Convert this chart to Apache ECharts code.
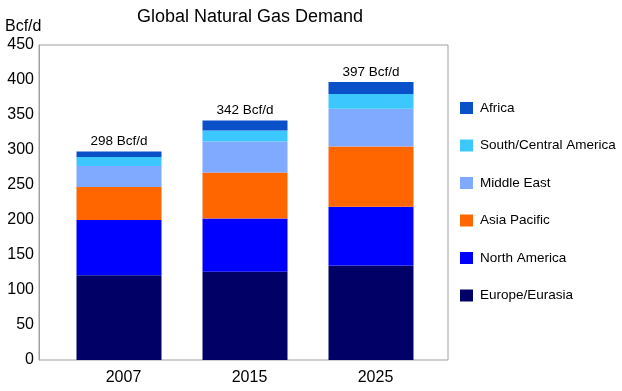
<!DOCTYPE html>
<html>
<head>
<meta charset="utf-8">
<script src="https://cdn.jsdelivr.net/npm/echarts@6/dist/echarts.min.js"></script>
<style>
html,body{margin:0;padding:0;background:#fff;}
#chart{width:622px;height:391px;}
</style>
</head>
<body>
<div id="chart"></div>
<script>
const categories = ['2007', '2015', '2025'];
const europeEurasia = [121, 126, 135];
const northAmerica = [79, 76, 84];
const asiaPacific = [47, 66, 86];
const middleEast = [30, 44, 54];
const southCentralAmerica = [13, 16, 21];
const africa = [8, 14, 17];
const totals = [298, 342, 397];
const yTicks = [0, 50, 100, 150, 200, 250, 300, 350, 400, 450];

const seriesDefs = [
  { name: 'Europe/Eurasia', data: europeEurasia, color: '#000066' },
  { name: 'North America', data: northAmerica, color: '#0000ff' },
  { name: 'Asia Pacific', data: asiaPacific, color: '#ff6600' },
  { name: 'Middle East', data: middleEast, color: '#7faaff' },
  { name: 'South/Central America', data: southCentralAmerica, color: '#3cc8ff' },
  { name: 'Africa', data: africa, color: '#0a50c8' }
];

const font = 'Arial, "Liberation Sans", sans-serif';
const chart = echarts.init(document.getElementById('chart'), null, { renderer: 'canvas' });

const series = seriesDefs.map((s, i) => ({
  name: s.name,
  type: 'bar',
  stack: 'total',
  xAxisIndex: 1,
  yAxisIndex: 1,
  barWidth: 85,
  data: s.data,
  itemStyle: { color: s.color },
  label: i === seriesDefs.length - 1 ? {
    show: true,
    position: 'top',
    distance: 3,
    color: '#000',
    fontFamily: font,
    fontSize: 13.5,
    formatter: p => totals[p.dataIndex] + ' Bcf/d'
  } : { show: false },
  emphasis: { disabled: true }
}));

chart.setOption({
  animation: false,
  backgroundColor: '#fff',
  title: [
    { text: 'Global Natural Gas Demand', left: 137, top: 8, padding: 0,
      textStyle: { fontFamily: font, fontSize: 18, fontWeight: 'normal', color: '#000' } },
    { text: 'Bcf/d', left: 5, top: 19, padding: 0,
      textStyle: { fontFamily: font, fontSize: 16, fontWeight: 'normal', color: '#000' } }
  ],
  legend: {
    orient: 'vertical',
    left: 460,
    top: 101,
    padding: 0,
    itemWidth: 13,
    itemHeight: 12,
    itemGap: 23.5,
    icon: 'rect',
    textStyle: { fontFamily: font, fontSize: 13.5, color: '#000', padding: [0, 0, 0, 2] },
    data: ['Africa', 'South/Central America', 'Middle East', 'Asia Pacific', 'North America', 'Europe/Eurasia']
  },
  grid: [
    { left: 39, width: 409, top: 45, height: 315, show: true, borderColor: '#a0a0a0', borderWidth: 1, backgroundColor: 'transparent' },
    { left: 56, width: 378, top: 45, height: 315 }
  ],
  xAxis: [
    { type: 'category', gridIndex: 0, data: categories, show: false },
    { type: 'category', gridIndex: 1, data: categories,
      axisLine: { show: false }, axisTick: { show: false },
      axisLabel: { fontFamily: font, fontSize: 16, color: '#000', margin: 10, padding: [0, 0, 0, 9] } }
  ],
  yAxis: [
    { type: 'value', gridIndex: 0, min: yTicks[0], max: yTicks[yTicks.length - 1], interval: 50,
      axisLine: { show: true, lineStyle: { color: '#a0a0a0' } }, axisTick: { show: false },
      splitLine: { show: false },
      axisLabel: { fontFamily: font, fontSize: 16, color: '#000', margin: 5, padding: [4, 0, 0, 0] } },
    { type: 'value', gridIndex: 1, min: yTicks[0], max: yTicks[yTicks.length - 1], interval: 50, show: false,
      splitLine: { show: false } }
  ],
  series: series
});
</script>
</body>
</html>
